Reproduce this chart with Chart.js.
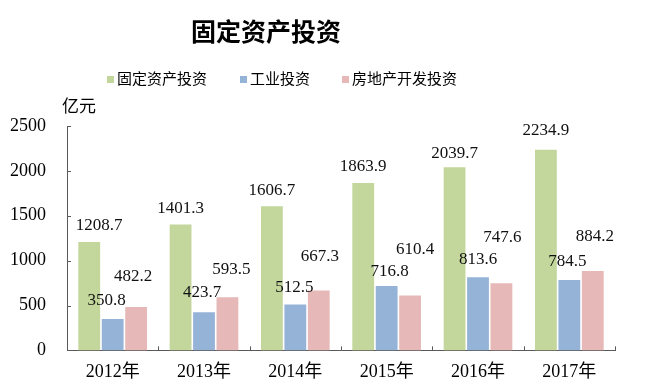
<!DOCTYPE html>
<html>
<head>
<meta charset="utf-8">
<script src="https://cdn.jsdelivr.net/npm/chart.js@4"></script>
<style>
  html, body { margin: 0; padding: 0; background: #fff; }
  #wrap { width: 661px; height: 386px; }
</style>
</head>
<body>
<div id="wrap"><canvas id="myChart"></canvas></div>
<script>
var years = ['2012年', '2013年', '2014年', '2015年', '2016年', '2017年'];
var fixedInvest = [1208.7, 1401.3, 1606.7, 1863.9, 2039.7, 2234.9];
var industryInvest = [350.8, 423.7, 512.5, 716.8, 813.6, 784.5];
var realEstateInvest = [482.2, 593.5, 667.3, 610.4, 747.6, 884.2];
var seriesNames = ['固定资产投资', '工业投资', '房地产开发投资'];
var yTicks = [0, 500, 1000, 1500, 2000, 2500];

var serif = '"Liberation Serif", "Noto Sans CJK SC", serif';

// value labels sit where they were dragged to in the original, so nudge them a bit
var labelShift = [
    { dx: [10, 0, 0, 0, 0, 0], dy: [16, 16, 16, 17, 14, 19] },
    { dx: [-6, -2, -1, 3, 0, -2], dy: [18, 20, 17, 15, 18, 18] },
    { dx: [-3, 4, 1, 5, 1, 2], dy: [31, 28, 34, 46, 46, 35] }
];

var header = {
    id: 'header',
    afterDraw: function (chart) {
        var c = chart.ctx;
        c.save();
        c.fillStyle = '#000';
        c.textBaseline = 'middle';
        c.textAlign = 'center';
        c.font = 'bold 25px ' + serif;
        c.fillText('固定资产投资', 266, 35);

        var xs = [107, 240, 342];
        c.font = '15px ' + serif;
        c.textAlign = 'left';
        chart.data.datasets.forEach(function (ds, i) {
            c.fillStyle = ds.backgroundColor;
            c.fillRect(xs[i], 76, 7, 7);
            c.fillStyle = '#000';
            c.fillText(ds.label, xs[i] + 10, 80);
        });

        c.font = '17px ' + serif;
        c.fillText('亿元', 62, 108);
        c.restore();
    }
};

var barLabels = {
    id: 'barLabels',
    afterDatasetsDraw: function (chart) {
        var c = chart.ctx;
        c.save();
        c.font = '17px ' + serif;
        c.fillStyle = '#111';
        c.textAlign = 'center';
        c.textBaseline = 'middle';
        chart.data.datasets.forEach(function (ds, i) {
            chart.getDatasetMeta(i).data.forEach(function (bar, j) {
                var s = labelShift[i];
                c.fillText(ds.data[j].toFixed(1), bar.x + s.dx[j], bar.y - s.dy[j]);
            });
        });
        c.restore();
    }
};

// small tick marks pointing into the plot, like the original
var innerTicks = {
    id: 'innerTicks',
    afterDraw: function (chart) {
        var c = chart.ctx, y = chart.scales.y;
        var a = chart.chartArea;
        c.save();
        c.strokeStyle = '#595959';
        c.lineWidth = 1;
        c.beginPath();
        y.ticks.forEach(function (t) {
            var py = Math.round(y.getPixelForValue(t.value)) + 0.5;
            c.moveTo(a.left, py);
            c.lineTo(a.left + 4, py);
        });
        for (var i = 1; i <= years.length; i++) {
            var px = Math.round(a.left + (a.right - a.left) * i / years.length) + 0.5;
            c.moveTo(px, a.bottom);
            c.lineTo(px, a.bottom - 4);
        }
        c.stroke();
        c.restore();
    }
};

var ctx = document.getElementById('myChart').getContext('2d');
var myChart = new Chart(ctx, {
    type: 'bar',
    data: {
        labels: years,
        datasets: [{
            label: seriesNames[0],
            data: fixedInvest,
            backgroundColor: '#c3d69b'
        }, {
            label: seriesNames[1],
            data: industryInvest,
            backgroundColor: '#95b3d7'
        }, {
            label: seriesNames[2],
            data: realEstateInvest,
            backgroundColor: '#e6b9b8'
        }]
    },
    options: {
        responsive: true,
        maintainAspectRatio: false,
        animation: false,
        categoryPercentage: 0.77,
        barPercentage: 0.93,
        layout: {
            padding: { top: 126, left: -11, right: 46, bottom: -8 }
        },
        scales: {
            y: {
                min: 0,
                max: 2500,
                afterBuildTicks: function (scale) {
                    scale.ticks = yTicks.map(function (v) { return { value: v }; });
                },
                grid: { display: false, drawTicks: false },
                border: { display: true, color: '#595959', width: 1 },
                ticks: {
                    padding: 21,
                    color: '#000',
                    font: { family: serif, size: 18 },
                    callback: function (v) { return String(v); }
                }
            },
            x: {
                grid: { display: false, drawTicks: false },
                border: { display: true, color: '#595959', width: 1 },
                ticks: {
                    padding: 11,
                    color: '#000',
                    font: { family: serif, size: 18 }
                }
            }
        },
        plugins: {
            legend: { display: false },
            title: { display: false },
            tooltip: { enabled: false }
        }
    },
    plugins: [header, barLabels, innerTicks]
});
</script>
</body>
</html>
